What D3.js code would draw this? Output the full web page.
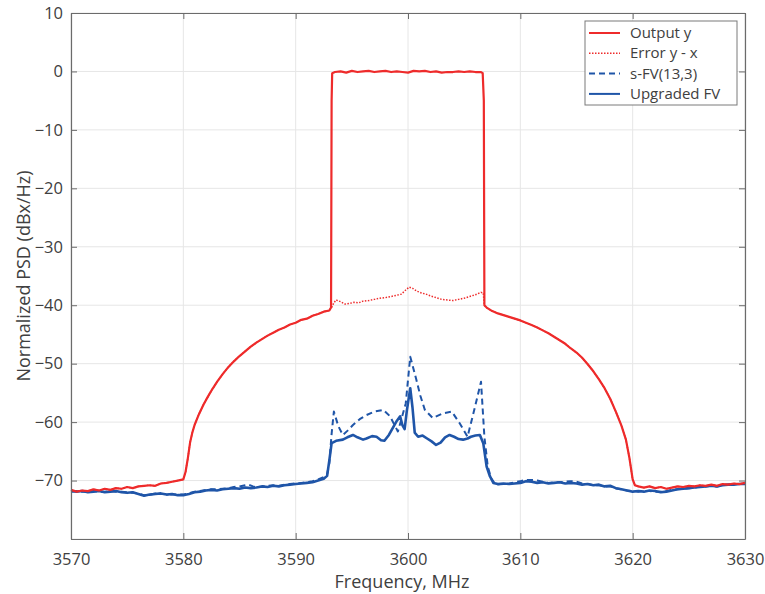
<!DOCTYPE html>
<html>
<head>
<meta charset="utf-8">
<script src="https://cdn.jsdelivr.net/npm/d3@7"></script>
<style>
  body { margin: 0; background: #fff; }
  text { font-family: "Open Sans", "Noto Sans", sans-serif; fill: #404040; }
</style>
</head>
<body>
<script>
// frequency (MHz) / level (dBx/Hz)
var outFreq = [3570,3570.5,3571,3571.5,3572,3572.5,3573,3573.5,3574,3574.5,3575,3575.5,3576,3576.5,3577,3577.5,3578,3578.5,3579,3579.5,
  3580,3580.2,3580.4,3580.6,3580.8,3581,3581.4,3581.8,3582.2,3582.6,3583,3583.5,3584,3584.5,3585,3585.5,3586,3586.5,3587,3587.5,
  3588,3588.5,3589,3589.5,3590,3590.5,3591,3591.5,3592,3592.5,3593,3593.15,3593.2,3593.25,
  3593.5,3594,3594.5,3595,3595.5,3596,3596.5,3597,3597.5,3598,3598.5,3599,3599.5,3600,3600.5,3601,3601.5,3602,3602.5,3603,3603.5,
  3604,3604.5,3605,3605.5,3606,3606.5,3606.65,3606.75,3606.8,
  3607,3607.5,3608,3608.5,3609,3609.5,3610,3610.5,3611,3611.5,3612,3612.5,3613,3613.5,3614,3614.5,3615,3615.5,3616,3616.5,
  3617,3617.5,3618,3618.5,3619,3619.4,3619.7,3620,3620.2,3620.5,3621,3621.5,3622,3622.5,3623,3623.5,3624,3624.5,3625,3625.5,
  3626,3626.5,3627,3627.5,3628,3628.5,3629,3629.5,3630];
var outDb = [-71.6,-71.9,-71.7,-71.8,-71.5,-71.7,-71.4,-71.6,-71.3,-71.4,-71.1,-71.3,-71.0,-70.9,-70.8,-70.9,-70.5,-70.4,-70.2,-70.0,
  -69.8,-68.5,-66.2,-63.5,-61.8,-60.5,-58.6,-57.0,-55.6,-54.3,-53.1,-51.8,-50.6,-49.6,-48.7,-47.9,-47.1,-46.4,-45.8,-45.2,
  -44.7,-44.2,-43.8,-43.3,-43.0,-42.5,-42.3,-41.8,-41.5,-41.1,-40.9,-40.4,-5,-0.3,
  -0.1,0.0,-0.2,0.1,-0.1,0.0,0.1,-0.1,0.0,0.1,-0.1,0.0,-0.1,-0.2,0.1,0.0,0.1,-0.1,0.0,-0.2,-0.1,
  -0.1,0.0,-0.1,0.0,-0.1,-0.1,-0.3,-5,-40.0,
  -40.4,-41.0,-41.4,-41.7,-42.0,-42.3,-42.6,-43.0,-43.4,-43.8,-44.3,-44.8,-45.4,-46.0,-46.6,-47.4,-48.1,-49.0,-50.1,-51.3,
  -52.7,-54.2,-56.0,-58.2,-60.6,-63.0,-66.0,-69.8,-70.8,-71.0,-71.2,-71.0,-71.3,-71.1,-71.4,-71.2,-71.0,-71.1,-70.9,-71.0,
  -70.8,-70.9,-70.7,-70.9,-70.6,-70.7,-70.5,-70.6,-70.4];

// error y - x inside the band (outside it equals the output)
var errFreq = [3593.2,3593.4,3593.6,3594,3594.4,3594.8,3595.2,3595.6,3596,3596.5,3597,3597.5,3598,3598.5,3599,3599.4,3599.8,3600.1,3600.4,
  3600.8,3601.2,3601.6,3602,3602.5,3603,3603.5,3604,3604.5,3605,3605.5,3606,3606.5,3606.7,3606.8];
var errDb = [-40.4,-39.6,-39.1,-39.4,-39.8,-39.7,-39.5,-39.6,-39.3,-39.2,-39.0,-38.8,-38.7,-38.5,-38.3,-38.1,-37.4,-36.9,-37.1,
  -37.6,-37.9,-38.1,-38.4,-38.7,-39.0,-39.1,-39.2,-39.0,-38.8,-38.5,-38.2,-37.8,-37.9,-40.0];

var sfvFreq = [3570,3570.5,3571,3571.5,3572,3572.5,3573,3573.5,3574,3574.5,3575,3575.5,3576,3576.5,3577,3577.5,3578,3578.5,3579,3579.5,
  3580,3580.5,3581,3581.5,3582,3582.5,3583,3583.5,3584,3584.5,3585,3585.5,3585.8,3586.2,3586.5,3587,3587.5,3588,3588.5,3589,3589.5,
  3590,3590.5,3591,3591.5,3592,3592.5,3592.8,3593.0,3593.2,3593.4,3593.8,3594.2,3594.6,3595.1,3595.7,3596.3,3597,3597.8,3598.4,
  3598.8,3599.1,3599.4,3599.8,3600.2,3600.75,3601.1,3601.5,3602.2,3603.1,3603.9,3604.6,3605.3,3605.9,3606.5,3606.8,3607.1,3607.4,
  3607.8,3608.5,3609,3609.5,3610,3610.5,3611,3611.5,3612,3612.5,3613,3613.5,3614,3614.5,3615,3615.5,3616,3616.5,3617,3617.5,
  3618,3618.5,3619,3619.5,3620,3620.5,3621,3621.5,3622,3622.5,3623,3623.5,3624,3624.5,3625,3625.5,3626,3626.5,3627,3627.5,
  3628,3628.5,3629,3629.5,3630];
var sfvDb = [-71.9,-71.8,-71.9,-71.9,-71.8,-71.9,-71.9,-71.8,-71.9,-71.9,-72.0,-72.1,-72.2,-72.5,-72.4,-72.2,-72.3,-72.3,-72.4,-72.4,
  -72.4,-72.2,-71.9,-71.8,-71.6,-71.5,-71.5,-71.4,-71.3,-71.1,-71.0,-70.8,-70.7,-71.0,-71.2,-71.0,-70.9,-70.8,-70.9,-70.7,-70.6,
  -70.5,-70.4,-70.3,-70.1,-69.8,-69.4,-68.9,-67.0,-62.0,-58.2,-60.7,-62.2,-61.5,-60.5,-59.5,-58.8,-58.2,-57.9,-59.0,
  -60.5,-61.6,-59.6,-56.8,-48.8,-52.8,-55.5,-57.9,-59.3,-58.5,-58.2,-60.2,-62.5,-57.9,-53.1,-62.5,-67.6,-69.6,
  -70.7,-70.6,-70.5,-70.3,-70.1,-69.9,-69.9,-70.0,-70.2,-70.4,-70.3,-70.3,-70.2,-70.1,-70.2,-70.5,-70.6,-70.8,-70.8,-71.0,
  -71.0,-71.3,-71.5,-71.7,-71.8,-71.9,-71.8,-71.8,-71.9,-71.9,-71.8,-71.6,-71.5,-71.4,-71.3,-71.2,-71.0,-71.0,-70.9,-71.0,
  -70.8,-70.7,-70.6,-70.6,-70.5];

var ufvFreq = [3570,3570.5,3571,3571.5,3572,3572.5,3573,3573.5,3574,3574.5,3575,3575.5,3576,3576.5,3577,3577.5,3578,3578.5,3579,3579.5,
  3580,3580.5,3581,3581.5,3582,3582.5,3583,3583.5,3584,3584.5,3585,3585.5,3586,3586.5,3587,3587.5,3588,3588.5,3589,3589.5,
  3590,3590.5,3591,3591.5,3592,3592.5,3592.8,3593.0,3593.2,3593.6,3594.2,3594.6,3595.1,3595.5,3596,3596.3,3596.8,3597.2,3597.6,
  3597.9,3598.3,3598.7,3599.0,3599.3,3599.5,3599.7,3599.9,3600.2,3600.4,3600.6,3600.9,3601.3,3601.7,3602.1,3602.5,3602.9,3603.3,
  3603.7,3604.1,3604.5,3604.9,3605.3,3605.6,3606.0,3606.4,3606.7,3607.0,3607.3,3607.6,3608,3608.5,3609,3609.5,3610,3610.5,
  3611,3611.5,3612,3612.5,3613,3613.5,3614,3614.5,3615,3615.5,3616,3616.5,3617,3617.5,3618,3618.5,3619,3619.5,3620,3620.5,
  3621,3621.5,3622,3622.5,3623,3623.5,3624,3624.5,3625,3625.5,3626,3626.5,3627,3627.5,3628,3628.5,3629,3629.5,3630];
var ufvDb = [-71.8,-71.9,-71.8,-72.0,-71.9,-71.8,-72.0,-71.9,-71.8,-72.0,-72.1,-72.0,-72.3,-72.6,-72.4,-72.3,-72.2,-72.4,-72.3,-72.5,
  -72.5,-72.3,-72.0,-71.9,-71.7,-71.6,-71.7,-71.5,-71.4,-71.3,-71.4,-71.2,-71.3,-71.2,-71.0,-71.1,-70.9,-71.0,-70.8,-70.7,
  -70.6,-70.5,-70.4,-70.3,-70.0,-69.7,-69.2,-66.5,-63.6,-63.2,-63.0,-62.6,-62.2,-62.6,-63.0,-62.8,-62.4,-62.5,-63.1,
  -63.2,-62.2,-60.8,-59.8,-59.0,-60.5,-61.2,-58.0,-54.2,-57.5,-61.8,-62.5,-62.3,-62.8,-63.3,-63.9,-63.5,-62.6,
  -62.2,-62.5,-62.9,-63.0,-62.8,-62.5,-62.3,-62.2,-63.6,-67.6,-69.3,-70.4,-70.6,-70.5,-70.6,-70.5,-70.4,-70.1,
  -70.2,-70.4,-70.3,-70.5,-70.4,-70.3,-70.5,-70.4,-70.5,-70.7,-70.6,-70.8,-70.7,-71.0,-70.9,-71.3,-71.5,-71.7,-71.9,-71.8,
  -71.9,-71.7,-71.8,-72.0,-71.9,-71.7,-71.5,-71.4,-71.3,-71.2,-71.1,-71.0,-70.9,-71.0,-70.8,-70.7,-70.7,-70.6,-70.6];

var xTicks = [3570,3580,3590,3600,3610,3620,3630];
var yTicks = [-80,-70,-60,-50,-40,-30,-20,-10,0,10];
var legendNames = ["Output y","Error y - x","s-FV(13,3)","Upgraded FV"];

var red = "#ee2b2b", blue = "#1f55a8";
var W = 765, H = 594;
var m = {left: 71, top: 13, right: 20, bottom: 55};
var iw = W - m.left - m.right, ih = H - m.top - m.bottom;

var svg = d3.select("body").append("svg").attr("width", W).attr("height", H);
var g = svg.append("g").attr("transform", "translate(" + m.left + "," + m.top + ")");

var x = d3.scaleLinear().domain([3570, 3630]).range([0, iw]);
var y = d3.scaleLinear().domain([-80, 10]).range([ih, 0]);

// grid
g.append("g").selectAll("line").data(xTicks).enter().append("line")
  .attr("x1", d => x(d)).attr("x2", d => x(d)).attr("y1", 0).attr("y2", ih)
  .attr("stroke", "#e6e6e6").attr("stroke-width", 1);
g.append("g").selectAll("line").data(yTicks).enter().append("line")
  .attr("x1", 0).attr("x2", iw).attr("y1", d => y(d)).attr("y2", d => y(d))
  .attr("stroke", "#e6e6e6").attr("stroke-width", 1);

function pts(fs, vs) { return fs.map((f, i) => [f, vs[i]]); }
var line = d3.line().x(d => x(d[0])).y(d => y(d[1]));

var outPts = pts(outFreq, outDb);
var errPts = outPts.filter(d => d[0] < 3593.2)
  .concat(pts(errFreq, errDb))
  .concat(outPts.filter(d => d[0] > 3606.8));

var series = [
  {data: pts(sfvFreq, sfvDb), color: blue, w: 2, dash: "6,4"},
  {data: pts(ufvFreq, ufvDb), color: blue, w: 2.6, dash: null},
  {data: outPts, color: red, w: 2.2, dash: null},
  {data: errPts, color: red, w: 1.5, dash: "1.5,1.5"}
];
g.append("g").selectAll("path").data(series).enter().append("path")
  .attr("d", d => line(d.data))
  .attr("fill", "none")
  .attr("stroke", d => d.color)
  .attr("stroke-width", d => d.w)
  .attr("stroke-dasharray", d => d.dash)
  .attr("stroke-linejoin", "round");

// axes (box with inward ticks)
var fmt = d3.format("d");
var xb = g.append("g").attr("transform", "translate(0," + ih + ")")
  .call(d3.axisBottom(x).tickValues(xTicks).tickFormat(fmt).tickSizeInner(-6).tickSizeOuter(0).tickPadding(14));
var yl = g.append("g")
  .call(d3.axisLeft(y).tickValues(yTicks).tickFormat(d => d === -80 ? "" : fmt(d)).tickSizeInner(-6).tickSizeOuter(0).tickPadding(8));
var xt = g.append("g")
  .call(d3.axisTop(x).tickValues(xTicks).tickFormat("").tickSizeInner(-6).tickSizeOuter(0));
var yr = g.append("g").attr("transform", "translate(" + iw + ",0)")
  .call(d3.axisRight(y).tickValues(yTicks).tickFormat("").tickSizeInner(-6).tickSizeOuter(0));
[xb, yl, xt, yr].forEach(function(a) {
  a.selectAll("path").attr("stroke", "#6b6b6b").attr("stroke-width", 1.2);
  a.selectAll("line").attr("stroke", "#6b6b6b");
  a.selectAll("text").attr("font-size", 16.5).attr("fill", "#404040")
    .attr("font-family", "'Open Sans', 'Noto Sans', sans-serif");
});

// axis titles
svg.append("text").attr("x", 402).attr("y", 588)
  .attr("text-anchor", "middle").attr("font-size", 18).text("Frequency, MHz");
svg.append("text").attr("transform", "translate(30," + (m.top + ih / 2) + ") rotate(-90)")
  .attr("text-anchor", "middle").attr("font-size", 18).text("Normalized PSD (dBx/Hz)");

// legend
var lg = svg.append("g").attr("transform", "translate(585,21)");
lg.append("rect").attr("width", 152).attr("height", 84)
  .attr("fill", "#fff").attr("stroke", "#7a7a7a").attr("stroke-width", 1);
var legendStyle = [series[2], series[3], series[0], series[1]];
var rows = lg.selectAll("g.row").data(legendNames).enter().append("g")
  .attr("transform", (d, i) => "translate(0," + (12 + i * 20.3) + ")");
rows.append("line").attr("x1", 4).attr("x2", 35).attr("y1", 0).attr("y2", 0)
  .attr("stroke", (d, i) => legendStyle[i].color)
  .attr("stroke-width", (d, i) => Math.min(legendStyle[i].w, 2))
  .attr("stroke-dasharray", (d, i) => legendStyle[i].dash);
rows.append("text").attr("x", 45).attr("y", 5).attr("font-size", 15).text(d => d);
</script>
</body>
</html>
